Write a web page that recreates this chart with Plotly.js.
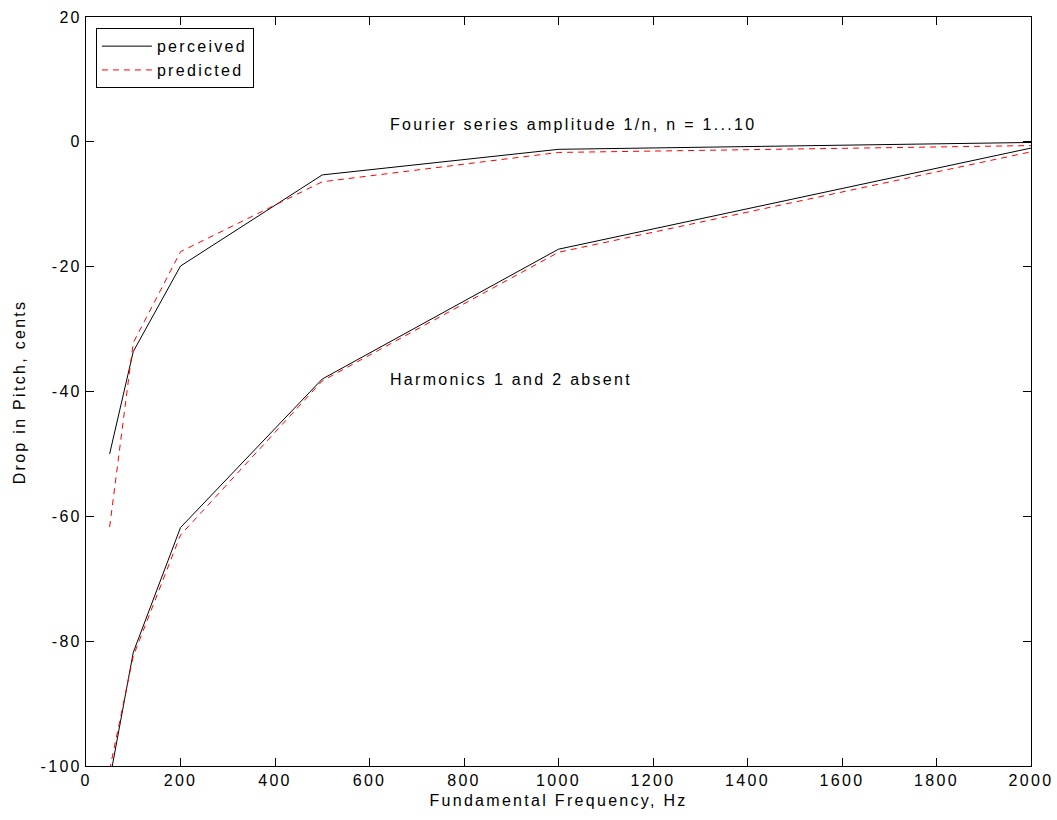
<!DOCTYPE html>
<html>
<head>
<meta charset="utf-8">
<script src="https://cdn.plot.ly/plotly-3.0.1.min.js"></script>
<style>
body{margin:0;background:#fff}
#chart{width:1057px;height:820px}
svg text{letter-spacing:2.3px}
</style>
</head>
<body>
<div id="chart"></div>
<script>
// Fundamental frequencies (Hz)
const freqs = [50, 100, 200, 500, 1000, 2000];
// Fourier series amplitude 1/n, n = 1...10
const fourierPerceived = [-50, -33.6, -19.9, -5.3, -1.2, -0.1];
const fourierPredicted = [-61.7, -32.2, -17.6, -6.4, -1.7, -0.6];
// Harmonics 1 and 2 absent
const harmPerceived = [-102.3, -81.8, -61.8, -38, -17.2, -1.0];
const harmPredicted = [-100.6, -82.4, -63, -38.3, -17.7, -1.6];

const xTicks = [0, 200, 400, 600, 800, 1000, 1200, 1400, 1600, 1800, 2000];
const yTicks = [-100, -80, -60, -40, -20, 0, 20];

const font = {family: 'Liberation Sans, Arial, sans-serif', size: 16, color: '#000'};
const solid = {color: '#000', width: 1, dash: 'solid'};
const dashed = {color: '#ff0000', width: 1, dash: '6px,5px'};

const traces = [
  {x: freqs, y: fourierPerceived, mode: 'lines', line: solid, name: 'perceived'},
  {x: freqs, y: fourierPredicted, mode: 'lines', line: dashed, name: 'predicted'},
  {x: freqs, y: harmPerceived, mode: 'lines', line: solid, name: 'perceived', showlegend: false},
  {x: freqs, y: harmPredicted, mode: 'lines', line: dashed, name: 'predicted', showlegend: false}
];

const axisCommon = {
  showgrid: false, zeroline: false, showline: true, linecolor: '#000', linewidth: 1,
  mirror: 'ticks', ticks: 'inside', ticklen: 8, tickcolor: '#000', tickwidth: 1,
  tickfont: font, automargin: false
};

const layout = {
  width: 1057, height: 820,
  margin: {l: 86, r: 26, t: 17, b: 54},
  paper_bgcolor: '#fff', plot_bgcolor: '#fff',
  font: font,
  showlegend: true,
  legend: {
    x: 0.0105, y: 0.985, xanchor: 'left', yanchor: 'top',
    bgcolor: '#fff', bordercolor: '#000', borderwidth: 1,
    font: font, tracegroupgap: 0, itemwidth: 50
  },
  xaxis: Object.assign({}, axisCommon, {
    range: [0, 2000], tickvals: xTicks, ticktext: xTicks.map(String),
    title: {text: 'Fundamental Frequency, Hz', font: font, standoff: 6}
  }),
  yaxis: Object.assign({}, axisCommon, {
    range: [-100, 20], tickvals: yTicks, ticktext: yTicks.map(String)
  }),
  annotations: [
    {x: 1031, y: 2.7, xref: 'x', yref: 'y', text: 'Fourier series amplitude 1/n, n = 1...10',
     showarrow: false, font: font},
    {x: 899, y: -38.1, xref: 'x', yref: 'y', text: 'Harmonics 1 and 2 absent',
     showarrow: false, font: font},
    {x: -0.07, y: 0.5, xref: 'paper', yref: 'paper', text: 'Drop in Pitch, cents',
     textangle: -90, showarrow: false, font: font, xanchor: 'center', yanchor: 'middle'}
  ]
};

Plotly.newPlot('chart', traces, layout, {displayModeBar: false, staticPlot: true});
</script>
</body>
</html>
